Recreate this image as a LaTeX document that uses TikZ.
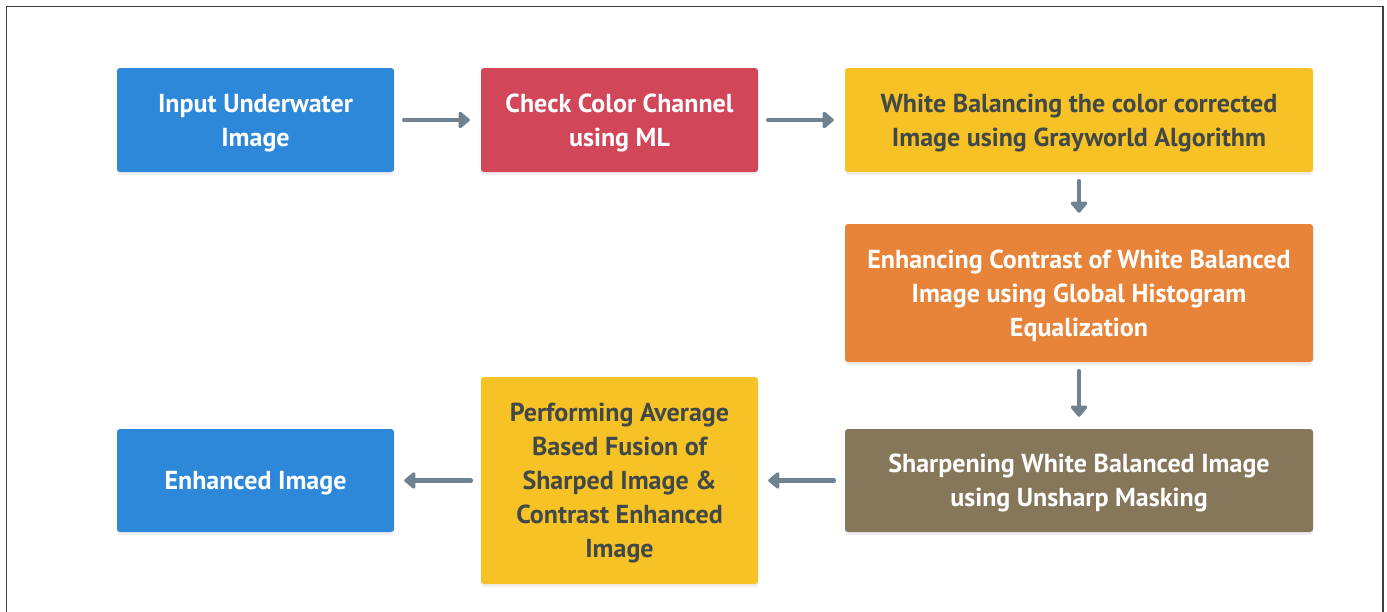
\documentclass[tikz,border=0pt]{standalone}
\usepackage{fontspec}
\setmainfont{PT Sans}
\usetikzlibrary{arrows.meta,shadows}
\definecolor{cblue}{HTML}{2E88DA}
\definecolor{cred}{HTML}{D2465A}
\definecolor{cyellow}{HTML}{F6C225}
\definecolor{corange}{HTML}{E8843A}
\definecolor{cbrown}{HTML}{87775A}
\definecolor{cdark}{HTML}{404848}
\definecolor{carrow}{HTML}{6E8292}
\tikzset{
  box/.style={rectangle, rounded corners=3pt, inner sep=0pt, align=center,
    text depth=0pt,
    font=\fontsize{26}{34}\selectfont\bfseries,
    drop shadow={opacity=0.12, shadow xshift=0pt, shadow yshift=-3pt}},
  light/.style={box, fill=#1, text=white},
  darktext/.style={box, fill=#1, text=cdark},
  flow/.style={carrow, line width=4.5pt, line cap=round,
    -{Triangle[length=12pt,width=19pt,round]}},
}
\begin{document}
\begin{tikzpicture}[x=1pt,y=-1pt]
\useasboundingbox (0,0) rectangle (1387,611);
\fill[white] (0,0) rectangle (1387,611);
\draw[black!75, line width=1.2pt] (6.5,620) -- (6.5,6.5) -- (1383,6.5) -- (1383,620);
\node[light=cblue, minimum width=277pt, minimum height=104pt] (in) at (255.5,120) {Input Underwater\\Image};
\node[light=cred, minimum width=277pt, minimum height=104pt] (chk) at (619.5,120) {Check Color Channel\\using ML};
\node[darktext=cyellow, minimum width=468pt, minimum height=104pt] (wb) at (1079,120) {White Balancing the color corrected\\Image using Grayworld Algorithm};
\node[light=corange, minimum width=468pt, minimum height=138pt] (enh) at (1079,293) {Enhancing Contrast of White Balanced\\Image using Global Histogram\\Equalization};
\node[light=cbrown, minimum width=468pt, minimum height=103pt] (sh) at (1079,480.5) {Sharpening White Balanced Image\\using Unsharp Masking};
\node[darktext=cyellow, minimum width=277pt, minimum height=207pt] (pf) at (619.5,480.5) {Performing Average\\Based Fusion of\\Sharped Image \&\\Contrast Enhanced\\Image};
\node[light=cblue, minimum width=277pt, minimum height=103pt] (out) at (255.5,480.5) {Enhanced Image};
\draw[flow, shorten <=10pt, shorten >=11pt] (in) -- (chk);
\draw[flow, shorten <=10pt, shorten >=11pt] (chk) -- (wb);
\draw[flow, shorten <=9pt, shorten >=11pt] (wb) -- (enh);
\draw[flow, shorten <=9pt, shorten >=12pt] (enh) -- (sh);
\draw[flow, shorten <=11pt, shorten >=10pt] (sh) -- (pf);
\draw[flow, shorten <=10pt, shorten >=10pt] (pf) -- (out);
\end{tikzpicture}
\end{document}
